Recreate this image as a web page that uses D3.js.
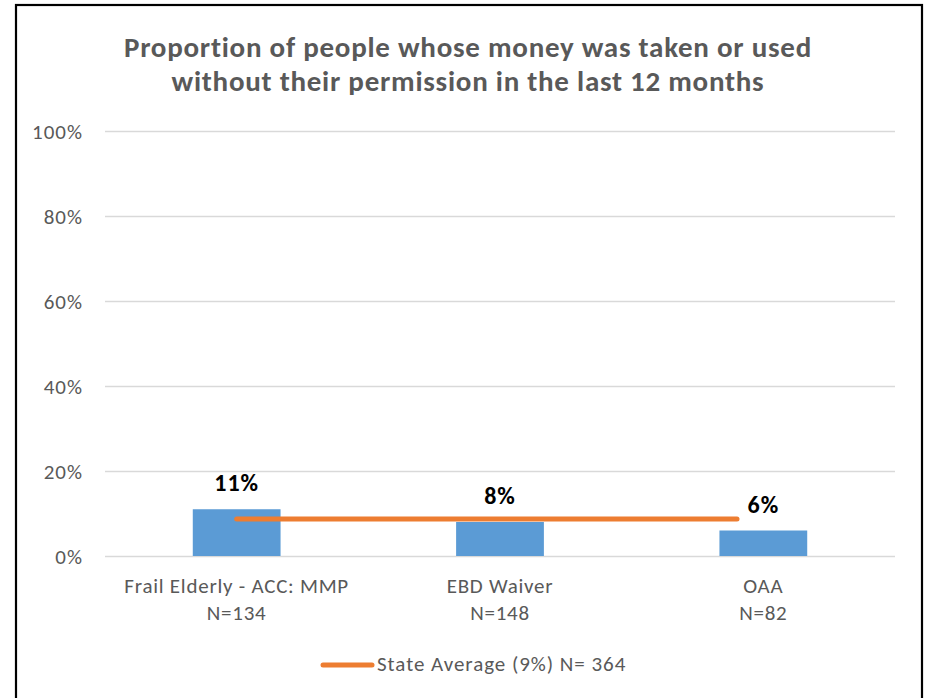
<!DOCTYPE html>
<html><head><meta charset="utf-8">
<script src="https://cdn.jsdelivr.net/npm/d3@7"></script>
<style>body{margin:0;background:#fff}svg{display:block}</style>
</head><body><svg id="c" width="932" height="698"></svg>
<script>
const titleLines = ["Proportion of people whose money was taken or used", "without their permission in the last 12 months"];
const categories = ["Frail Elderly - ACC: MMP", "EBD Waiver", "OAA"];
const sampleSizes = ["N=134", "N=148", "N=82"];
const values = [0.11, 0.08, 0.06];
const valueLabels = ["11%", "8%", "6%"];
const stateAvg = 0.087;
const stateAvgIdx = [0, 1.9];
const yTicks = [0, 0.2, 0.4, 0.6, 0.8, 1.0];
const legendLabel = "State Average (9%) N= 364";

const svg = d3.select("#c");
const font = "Calibri, Carlito, Lato, sans-serif";
const L = 105, R = 895, T = 131, B = 556;

svg.append("rect").attr("x",16).attr("y",5).attr("width",906).attr("height",720)
  .attr("fill","#fff").attr("stroke","#000").attr("stroke-width",2.2);

const x = d3.scaleBand().domain(categories).range([L,R]).paddingInner(0).paddingOuter(0);
const y = d3.scaleLinear().domain([0,1]).range([B,T]);
const cx = c => x(c) + x.bandwidth()/2;
const idx = d3.scaleLinear().domain([0,1]).range([cx(categories[0]), cx(categories[1])]);
const bw = x.bandwidth()/3;

// title
svg.append("g").selectAll("text").data(titleLines).join("text")
  .attr("x",468).attr("y",(d,i)=>57+i*34).attr("text-anchor","middle")
  .attr("font-family",font).attr("font-weight","bold").attr("font-size",29)
  .attr("letter-spacing",0.75)
  .attr("fill","#595959").text(d=>d);

// grid + y axis
const yAxis = d3.axisLeft(y).tickValues(yTicks).tickFormat(d3.format(".0%")).tickSize(-(R-L)).tickPadding(22);
const gy = svg.append("g").attr("transform",`translate(${L},0)`).call(yAxis);
gy.select(".domain").remove();
gy.selectAll(".tick line").attr("stroke","#d9d9d9").attr("stroke-width",1.5);
gy.selectAll(".tick text").attr("font-family",font).attr("font-size",21).attr("letter-spacing",1)
  .attr("fill","#595959").attr("dy","0.36em");

// bars
svg.append("g").selectAll("rect").data(values).join("rect")
  .attr("x",(d,i)=>cx(categories[i])-bw/2)
  .attr("width",bw)
  .attr("y",d=>y(d)).attr("height",d=>B-y(d))
  .attr("fill","#5b9bd5");

// state average line
svg.append("path")
  .attr("d", d3.line().x(d=>idx(d)).y(()=>y(stateAvg))(stateAvgIdx))
  .attr("stroke","#ed7d31").attr("stroke-width",5).attr("stroke-linecap","round").attr("fill","none");

// value labels
svg.append("g").selectAll("text").data(values).join("text")
  .attr("x",(d,i)=>cx(categories[i]))
  .attr("y",d=>y(d)-18).attr("text-anchor","middle")
  .attr("font-family",font).attr("font-weight","bold").attr("font-size",24).attr("letter-spacing",1)
  .attr("fill","#000")
  .text((d,i)=>valueLabels[i]);

// category labels
const gx = svg.append("g");
categories.forEach((c,i)=>{
  const t = gx.append("text").attr("y",593).attr("text-anchor","middle")
    .attr("font-family",font).attr("font-size",21).attr("letter-spacing",0.75).attr("fill","#595959");
  t.append("tspan").attr("x",cx(c)).text(c);
  t.append("tspan").attr("x",cx(c)).attr("dy",27).text(sampleSizes[i]);
});

// legend
svg.append("line").attr("x1",323).attr("x2",372).attr("y1",665).attr("y2",665)
  .attr("stroke","#ed7d31").attr("stroke-width",5).attr("stroke-linecap","round");
svg.append("text").attr("x",377).attr("y",671).attr("font-family",font).attr("font-size",21)
  .attr("letter-spacing",0.95).attr("fill","#595959").text(legendLabel);
</script></body></html>
